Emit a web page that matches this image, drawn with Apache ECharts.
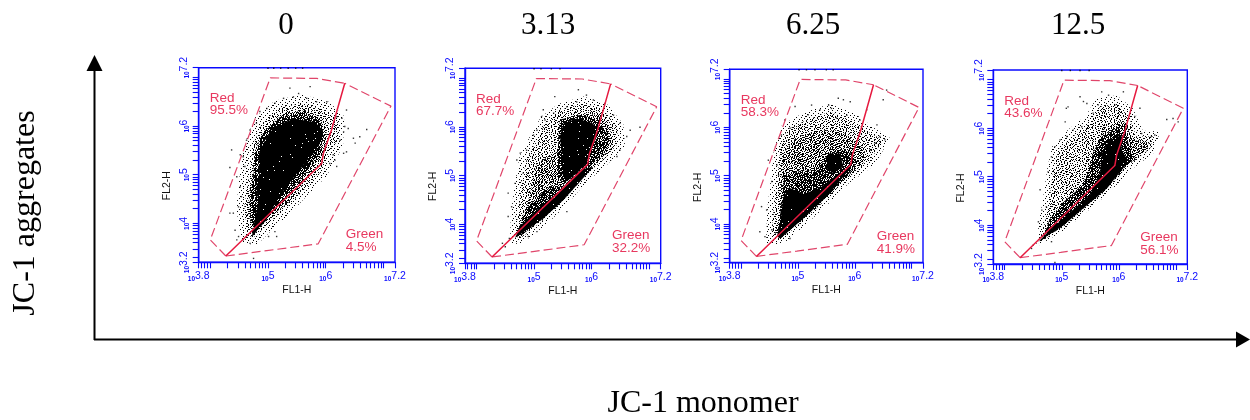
<!DOCTYPE html>
<html><head><meta charset="utf-8">
<style>html,body{margin:0;padding:0;background:#fff}#c{width:1250px;height:420px;filter:blur(0.35px)}</style>
<script src="https://cdn.jsdelivr.net/npm/echarts@6/dist/echarts.min.js"></script>
</head><body><div id="c"></div>
<script>
const panelTitles = ['0','3.13','6.25','12.5'];
const redLabels = ['95.5%','67.7%','58.3%','43.6%'];
const greenLabels = ['4.5%','32.2%','41.9%','56.1%'];
const xTickLabels = [3.8,5,6,7.2];
const yTickLabels = [3.2,4,5,6,7.2];
const tickMantissas = [1,2,3,4,5,6,7,8,9];
const tickDecades = [3,4,5,6,7];

const gateRed = [[4.27,3.33],[4.00,3.66],[5.04,6.99],[5.84,6.98],[6.33,6.88]];
const gateGreen = [[4.27,3.33],[4.98,3.44],[5.87,3.58],[7.13,6.41],[6.33,6.88]];
const gateDivider = [[6.33,6.88],[6.10,5.92],[5.96,5.44],[5.93,5.23],[4.27,3.33]];

const fringe0 = [[4.55,3.6],[4.45,4.3],[4.52,5.1],[4.6,5.65],[4.78,6.18],[5.12,6.52],[5.58,6.65],[6.05,6.5],[6.32,6.2],[6.3,5.6],[6.15,5.25],[6.0,4.95],[5.7,4.6],[5.42,4.25],[5.1,3.9],[4.8,3.55]];
const low0 = [[4.65,3.73],[4.59,4.34],[4.68,5.03],[4.73,5.58],[4.90,6.06],[5.18,6.37],[5.58,6.47],[5.98,6.33],[6.21,6.13],[6.21,5.71],[6.04,5.43],[5.95,5.10],[5.68,4.76],[5.40,4.42],[5.05,4.05],[4.78,3.73]];
const mid0 = [[4.70,3.9],[4.65,4.34],[4.68,4.7],[4.74,5.03],[4.80,5.58],[4.97,5.95],[5.27,6.26],[5.67,6.33],[5.96,6.13],[6.02,5.85],[5.96,5.44],[5.73,5.03],[5.38,4.45],[5.04,4.14],[4.80,3.87]];
const dense0 = [[4.70,4.0],[4.68,4.5],[4.75,5.0],[4.78,5.5],[4.92,5.88],[5.2,6.18],[5.6,6.28],[5.92,6.1],[5.97,5.8],[5.9,5.45],[5.65,5.05],[5.36,4.6],[5.05,4.2],[4.8,3.85]];
const core0 = [[4.80,4.75],[4.85,5.03],[4.83,5.4],[4.95,5.72],[5.12,6.0],[5.45,6.15],[5.82,6.08],[5.96,5.9],[5.87,5.55],[5.65,5.25],[5.45,4.95],[5.30,4.72],[5.12,4.4],[4.98,4.08],[4.72,3.72],[4.75,3.95],[4.83,4.4]];
const dots0 = [[4.37,5.51],[4.34,5.15],[4.52,5.41],[4.46,4.96],[4.49,4.34],[4.40,4.21],[4.34,4.21],[4.43,3.86],[4.46,3.66],[4.49,3.73],[4.57,3.66],[4.75,3.28],[4.69,3.59],[5.12,3.83],[5.15,3.73],[5.01,3.73],[6.36,6.33],[6.39,5.95],[6.48,5.75],[6.59,5.78],[6.71,5.93],[6.51,5.65],[6.31,5.44],[6.36,5.47],[6.13,5.41],[6.07,5.23],[6.19,5.17],[6.16,5.30],[6.25,5.71],[6.31,5.88],[6.33,5.99],[6.28,6.16],[6.19,6.19],[5.73,6.81],[5.38,6.78],[5.53,6.67],[5.44,6.60],[5.27,6.57],[5.12,6.47],[5.67,6.57],[5.84,6.50],[6.02,6.50],[4.98,6.36],[4.86,6.30],[4.80,6.06],[4.69,5.92],[4.63,5.71],[4.57,5.37],[4.60,5.17],[4.52,4.75],[4.54,4.55],[5.00,7.19],[5.10,7.19],[5.22,7.19],[5.35,7.19],[5.48,7.19],[5.60,7.19]];

const fringe1 = [[4.58,3.6],[4.6,4.25],[4.67,4.85],[4.75,5.4],[4.95,5.85],[5.12,6.2],[5.42,6.47],[5.86,6.62],[6.28,6.45],[6.55,6.05],[6.58,5.6],[6.25,5.2],[5.9,4.85],[5.55,4.38],[5.2,3.98],[4.78,3.6]];
const low1 = [[4.67,3.75],[4.73,4.23],[4.78,4.84],[4.87,5.32],[5.05,5.73],[5.19,6.07],[5.45,6.35],[5.86,6.48],[6.20,6.35],[6.44,6.00],[6.46,5.66],[6.20,5.32],[5.86,4.98],[5.51,4.50],[5.16,4.09],[4.76,3.71]];
const mid1 = [[4.76,3.92],[4.87,4.36],[4.96,4.77],[5.05,5.25],[5.45,5.52],[5.48,6.14],[5.80,6.28],[6.15,6.24],[6.35,5.87],[6.35,5.59],[6.03,5.18],[5.51,4.50],[5.16,4.12],[4.76,3.75]];
const dense1 = [[5.42,5.7],[5.45,6.15],[5.8,6.24],[6.1,6.15],[6.3,5.8],[6.3,5.6],[6.03,5.25],[5.8,5.1],[5.5,4.8],[5.4,5.2]];
const denseBand1 = [[4.7,3.8],[4.85,4.3],[5.05,4.55],[5.3,4.8],[5.55,4.75],[5.6,4.6],[5.16,4.12],[4.72,3.72]];
const core1 = [[5.51,6.07],[5.74,6.17],[6.03,6.07],[6.09,5.80],[5.97,5.46],[5.91,5.25],[5.74,5.05],[5.57,4.88],[5.48,5.05],[5.48,5.46],[5.45,5.80]];
const band1 = [[4.67,3.72],[5.16,4.12],[5.51,4.50],[6.03,5.18],[5.80,5.12],[5.45,4.70],[5.05,4.30],[4.76,3.97]];
const dots1 = [[5.77,6.76],[5.36,6.62],[5.16,6.35],[5.13,6.21],[4.99,5.83],[4.70,5.32],[4.55,4.16],[4.55,4.64],[5.57,4.26],[5.05,3.85],[4.90,3.75],[4.50,3.54],[4.45,3.61],[4.57,3.71],[6.67,5.93],[6.84,5.99],[6.61,5.80],[6.49,6.07],[6.38,6.24],[6.49,5.52],[6.44,5.39],[6.23,6.48],[5.91,6.65],[5.57,6.41],[5.74,6.51],[6.03,6.55],[4.76,5.46],[4.81,5.05],[4.67,4.84],[4.61,4.36],[4.87,5.52],[5.05,5.93],[5.19,6.14],[5.34,6.28],[5.00,7.19],[5.12,7.19],[5.30,7.19],[5.45,7.19]];

const fringe2 = [[4.44,3.6],[4.46,4.3],[4.52,4.9],[4.58,5.55],[4.72,6.05],[5.1,6.3],[5.56,6.48],[5.98,6.3],[6.35,5.98],[6.62,5.78],[6.35,5.22],[5.9,4.85],[5.5,4.38],[5.13,3.98],[4.72,3.57]];
const low2 = [[4.54,3.74],[4.57,4.29],[4.63,4.84],[4.69,5.53],[4.80,5.94],[5.15,6.15],[5.56,6.32],[5.92,6.15],[6.27,5.88],[6.50,5.74],[6.27,5.32],[5.86,4.94],[5.45,4.46],[5.10,4.08],[4.69,3.67]];
const mid2 = [[4.60,3.81],[4.69,4.36],[4.71,4.91],[4.74,5.46],[4.98,5.81],[5.39,5.94],[5.74,5.94],[5.97,5.74],[6.18,5.53],[6.15,5.26],[5.86,4.98],[5.45,4.50],[5.10,4.12],[4.69,3.70]];
const dense2 = [[4.65,3.85],[4.72,4.5],[4.76,5.0],[5.05,5.1],[5.35,5.1],[5.5,5.4],[5.75,5.55],[5.95,5.45],[6.05,5.3],[5.86,4.98],[5.45,4.50],[5.10,4.12],[4.69,3.70]];
const core2 = [[4.63,3.74],[4.70,4.1],[4.74,4.55],[4.85,4.75],[5.1,4.62],[5.39,4.75],[5.80,5.12],[5.92,5.15],[5.51,4.57],[5.10,4.12],[4.69,3.70]];
const blob2 = [[5.51,5.46],[5.74,5.46],[5.80,5.19],[5.62,5.05],[5.51,5.15]];
const dots2 = [[5.71,6.60],[5.80,6.57],[5.92,6.53],[6.56,6.77],[6.50,6.57],[5.54,6.46],[5.59,6.39],[5.24,6.46],[5.39,6.36],[5.18,6.26],[4.95,6.43],[4.77,6.15],[4.86,5.98],[4.71,5.84],[4.48,5.32],[4.63,5.22],[4.54,4.88],[4.66,5.01],[4.33,3.84],[4.36,4.36],[4.45,4.29],[4.42,3.74],[4.54,3.88],[6.39,6.05],[6.53,5.74],[6.44,5.81],[6.36,5.67],[6.27,5.53],[6.21,6.36],[6.09,6.15],[5.86,6.25],[5.68,6.19],[4.86,3.70],[5.02,7.19],[5.15,7.19],[5.30,7.19],[5.50,7.19],[5.62,7.19]];

const fringe3 = [[4.6,4.05],[4.68,4.62],[4.75,5.2],[4.84,5.65],[5.12,5.98],[5.42,6.25],[5.6,6.6],[5.96,6.68],[6.25,6.4],[6.42,5.95],[6.72,5.93],[6.62,5.5],[6.22,5.15],[5.82,4.66],[5.4,4.24],[5.05,3.9],[4.55,3.55]];
const low3 = [[4.71,4.07],[4.79,4.59],[4.85,5.14],[4.94,5.55],[5.20,5.83],[5.49,6.10],[5.67,6.44],[5.96,6.51],[6.17,6.24],[6.31,5.83],[6.60,5.83],[6.55,5.58],[6.17,5.24],[5.79,4.73],[5.38,4.31],[5.03,3.97],[4.59,3.63]];
const mid3 = [[4.73,3.90],[4.91,4.31],[5.20,4.66],[5.44,4.93],[5.55,5.41],[5.73,5.96],[5.96,6.10],[6.08,6.17],[6.25,5.76],[6.52,5.69],[6.49,5.55],[6.17,5.28],[5.79,4.76],[5.38,4.35],[5.03,4.00],[4.68,3.69]];
const dense3 = [[4.78,4.1],[5.0,4.45],[5.3,4.75],[5.45,5.05],[5.55,5.5],[5.7,5.85],[5.98,6.0],[6.15,5.8],[6.2,5.5],[6.3,5.35],[6.17,5.28],[5.79,4.76],[5.38,4.35],[5.03,4.00],[4.65,3.68]];
const core3 = [[4.59,3.66],[4.73,3.83],[5.09,4.21],[5.49,4.62],[5.67,5.07],[5.70,5.48],[5.84,5.76],[6.05,5.86],[6.05,5.55],[6.17,5.31],[5.79,4.76],[5.38,4.35],[5.03,4.00]];
const dots3 = [[5.70,6.75],[5.82,6.68],[6.08,6.75],[5.32,6.65],[5.44,6.51],[5.38,6.55],[5.64,6.48],[5.08,6.41],[5.11,6.44],[5.06,6.13],[5.09,5.83],[4.88,5.62],[4.82,5.41],[4.76,5.10],[4.62,4.73],[4.59,4.07],[4.65,4.31],[4.73,4.38],[4.82,3.66],[4.88,3.23],[4.47,3.52],[4.50,3.59],[6.84,6.18],[6.95,6.20],[7.04,6.13],[6.63,5.86],[6.57,5.83],[6.43,5.62],[6.37,6.41],[6.28,6.24],[6.40,5.89],[5.93,6.48],[5.55,6.31],[5.20,5.96],[5.35,6.03],[4.97,5.76],[5.00,7.19],[5.15,7.19],[5.32,7.19],[5.48,7.19]];

const fringePolys = [fringe0,fringe1,fringe2,fringe3];
const lowPolys = [low0,low1,low2,low3];
const midPolys = [mid0,mid1,mid2,mid3];
const densePolys = [[dense0],[dense1,denseBand1],[dense2],[dense3]];
const corePolys = [[core0],[core1,band1],[core2,blob2],[core3]];
const dotSets = [dots0,dots1,dots2,dots3];

const tileA = ['#...#.....#...#.','..#.....#.....#.','.....#.....#....','#.......#.....#.','...#.#.....#....','.#.......#...#..','.....#.#.....#..','..#.......#.....','#.....#.....#...','...#......#...#.','.#.....#.....#..','.....#.....#....','..#.#.....#...#.','#......#.......#','....#.....#.#...','.#.....#.......#'];
const tileB = ['#....#.......','.........#...','...#.........','.......#....#','.#...........','.....#...#...','#...........#','...#....#....','...........#.','.#....#......','.........#...'];
const tileC = ['#..#....#.#','..#..#.#...','#....#...#.','..#.#...#..','.#....#...#','...#.#..#..','#.#....#...'];
const tileD = ['#.##.#..#','.#..#.##.','##.#..#.#','.#.##.#..','#..#.#.#.'];
const tileHoles = ['................','.......#........','................','...#.........#..','................','..........#.....','.#..............','................','......#.........','................','..#........#....','................','.........#......','....#...........','................','..............#.'];

const frames = [[198.7,67.7,196.3,194.6],[465,68.3,195.7,195],[729.7,69.3,193.3,193.4],[993.3,70,194,194]];
const titleCentres = [286,548,813,1078];

const BLUE='#0a0aff', DASH='#e0456a', SOLID='#e6193f', TEXT='#e8385f';

function texture(tiles,invert){
  const c=document.createElement('canvas');c.width=1250;c.height=420;
  const g=c.getContext('2d');g.fillStyle='#000';
  for(let y=0;y<420;y++)for(let x=0;x<1250;x++){
    const on=tiles.some(t=>t[y%t.length][x%t[0].length]==='#');
    if(on!==!!invert)g.fillRect(x,y,1,1);
  }
  return {image:c,repeat:'repeat'};
}
const fills=[texture([tileB]),texture([tileA,tileB]),texture([tileA,tileB,tileC]),texture([tileA,tileB,tileC,tileD]),texture([tileHoles],true)];
const logTicks=[];
tickDecades.forEach(d=>tickMantissas.forEach(m=>logTicks.push(d+Math.log10(m))));
const xTicks=logTicks.filter(v=>v>=3.8&&v<=7.2).concat([3.8,7.2]);
const yTicks=logTicks.filter(v=>v>=3.2&&v<=7.2).concat([3.2,7.2]);
const rich={a:{fontFamily:'Liberation Sans',fontSize:6.5,fontWeight:'bold',color:BLUE,padding:[6,0,0,0]},b:{fontFamily:'Liberation Sans',fontSize:10.5,color:BLUE}};
const fmt=v=>'{a|10}{b|'+v+'}';

const grid=[],xAxis=[],yAxis=[],series=[],graphic=[];
function polySeries(i,poly,fill){
  series.push({type:'custom',xAxisIndex:i,yAxisIndex:i,silent:true,clip:true,data:poly,z:2,
    renderItem:(p,api)=>p.dataIndex!==0?null:({type:'polygon',shape:{points:poly.map(q=>api.coord(q))},style:{fill:fill,stroke:null}})});
}
frames.forEach((f,i)=>{
  grid.push({left:f[0],top:f[1],width:f[2],height:f[3],show:true,backgroundColor:'#fff',borderColor:BLUE,borderWidth:1.4});
  xAxis.push({type:'value',gridIndex:i,min:3.8,max:7.2,splitLine:{show:false},
    name:'FL1-H',nameLocation:'middle',nameGap:22,nameTextStyle:{fontFamily:'Liberation Sans',fontSize:10.5,color:'#111'},
    axisLine:{lineStyle:{color:BLUE,width:1.4}},
    axisTick:{length:6,inside:false,customValues:xTicks,lineStyle:{color:BLUE,width:1.1}},
    axisLabel:{customValues:xTickLabels,formatter:fmt,rich:rich,margin:7,hideOverlap:false,showMinLabel:true,showMaxLabel:true}});
  yAxis.push({type:'value',gridIndex:i,min:3.2,max:7.2,splitLine:{show:false},
    axisLine:{lineStyle:{color:BLUE,width:1.4}},
    axisTick:{length:6,inside:false,customValues:yTicks,lineStyle:{color:BLUE,width:1.1}},
    axisLabel:{customValues:yTickLabels,formatter:fmt,rich:rich,rotate:90,margin:8,hideOverlap:false,showMinLabel:true,showMaxLabel:true}});
  polySeries(i,fringePolys[i],fills[0]);
  polySeries(i,lowPolys[i],fills[1]);
  polySeries(i,midPolys[i],fills[2]);
  densePolys[i].forEach(p=>polySeries(i,p,fills[3]));
  corePolys[i].forEach(p=>polySeries(i,p,fills[4]));
  series.push({type:'scatter',xAxisIndex:i,yAxisIndex:i,silent:true,symbol:'rect',symbolSize:1.4,itemStyle:{color:'#000'},data:dotSets[i],z:3});
  const line=(d,t,c,w)=>series.push({type:'line',xAxisIndex:i,yAxisIndex:i,silent:true,showSymbol:false,symbol:'none',data:d,z:4,lineStyle:{type:t,color:c,width:w}});
  line(gateRed,[9,4],DASH,1.2);
  line(gateGreen,[9,4],DASH,1.2);
  line(gateDivider,'solid',SOLID,1.5);
  const lbl=(dx,dy,t)=>graphic.push({type:'text',left:f[0]+dx,top:f[1]+dy,z:10,style:{text:t,fontFamily:'Liberation Sans',fontSize:13.5,fill:TEXT}});
  lbl(11,24,'Red');lbl(11,36,redLabels[i]);
  lbl(147,160,'Green');lbl(147,173,greenLabels[i]);
  graphic.push({type:'text',x:f[0]-32,y:f[1]+118,rotation:Math.PI/2,z:10,style:{text:'FL2-H',fontFamily:'Liberation Sans',fontSize:10.5,fill:'#111',align:'center',verticalAlign:'middle'}});
  graphic.push({type:'text',x:titleCentres[i],y:26,z:10,style:{text:panelTitles[i],fontFamily:'Liberation Serif',fontSize:31,fill:'#000',align:'center',verticalAlign:'middle'}});
});
graphic.push(
 {type:'line',shape:{x1:94.5,y1:70,x2:94.5,y2:340},style:{stroke:'#000',lineWidth:2},z:9},
 {type:'polygon',shape:{points:[[94.5,55],[86.5,71],[102.5,71]]},style:{fill:'#000'},z:9},
 {type:'line',shape:{x1:94,y1:339.5,x2:1238,y2:339.5},style:{stroke:'#000',lineWidth:2},z:9},
 {type:'polygon',shape:{points:[[1250,339.5],[1236,331.5],[1236,347.5]]},style:{fill:'#000'},z:9},
 {type:'text',x:26,y:213,rotation:Math.PI/2,z:10,style:{text:'JC-1 aggregates',fontFamily:'Liberation Serif',fontSize:32,fill:'#000',align:'center',verticalAlign:'middle'}},
 {type:'text',x:703,y:404,z:10,style:{text:'JC-1 monomer',fontFamily:'Liberation Serif',fontSize:32,fill:'#000',align:'center',verticalAlign:'middle'}}
);
const chart=echarts.init(document.getElementById('c'),null,{renderer:'canvas'});
chart.setOption({animation:false,backgroundColor:'#fff',grid,xAxis,yAxis,series,graphic});
</script></body></html>
